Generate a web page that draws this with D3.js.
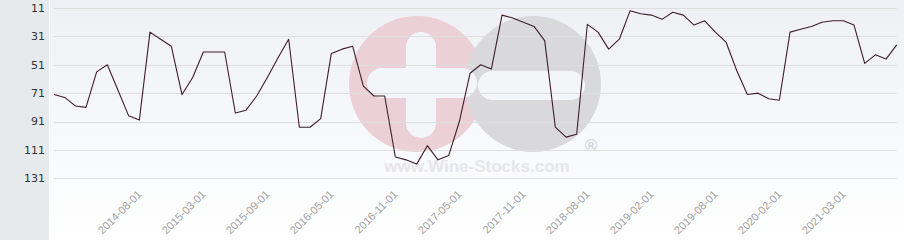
<!DOCTYPE html>
<html>
<head>
<meta charset="utf-8">
<script src="https://cdn.jsdelivr.net/npm/d3@7"></script>
<style>
  html, body { margin: 0; padding: 0; background: #fff; }
  svg { display: block; }
</style>
</head>
<body>
<div id="chart"></div>
<script>
// ranking values, one per month point (lower = better, axis reversed)
const ranks = [72, 74, 80, 81, 56, 51, 69, 87, 90, 28,
               33, 38, 72, 60, 42, 42, 42, 85, 83, 73,
               60, 46, 33, 95, 95, 89, 43, 40, 38, 66,
               73, 73, 116, 118, 121, 108, 118, 115, 91, 57,
               51, 54, 16, 18, 21, 24, 34, 95, 102, 100,
               22.5, 28, 40, 33, 13, 15, 16, 19, 14, 16,
               23, 20, 28, 35, 55, 72, 71, 75, 76, 28,
               26, 24, 21, 20, 20, 23, 50, 44, 47, 37];
const yTicks = [11, 31, 51, 71, 91, 111, 131];
const xLabels = ['2014-08-01', '2015-03-01', '2015-09-01', '2016-05-01', '2016-11-01', '2017-05-01',
                 '2017-11-01', '2018-08-01', '2019-02-01', '2019-08-01', '2020-02-01', '2021-03-01'];
const xLabelIdx = [8, 14, 20, 26, 32, 38, 44, 50, 56, 62, 68, 74];

const width = 904, height = 240;
const plotL = 54, plotR = 896.7, plotT = 8, plotB = 178.3;

const svg = d3.select('#chart').append('svg').attr('width', width).attr('height', height);

const defs = svg.append('defs');
const grad = defs.append('linearGradient').attr('id', 'bg').attr('x1', 0).attr('y1', 0).attr('x2', 0).attr('y2', 1);
grad.append('stop').attr('offset', '0%').attr('stop-color', '#eef0f5');
grad.append('stop').attr('offset', '100%').attr('stop-color', '#ffffff');

// backgrounds
svg.append('rect').attr('x', 50).attr('y', 0).attr('width', width - 50).attr('height', height).attr('fill', 'url(#bg)');
svg.append('rect').attr('x', 0).attr('y', 0).attr('width', 49).attr('height', height).attr('fill', '#e7eaed');

const x = d3.scalePoint().domain(d3.range(ranks.length)).range([plotL, plotR]);
const y = d3.scaleLinear().domain([11, 131]).range([plotT, plotB]);

// watermark (under the grid)
const wm = svg.append('g');
wm.append('circle').attr('cx', 417).attr('cy', 84).attr('r', 68).attr('fill', '#ebd0d7');
wm.append('circle').attr('cx', 533).attr('cy', 84).attr('r', 68).attr('fill', '#d9d9dc');
wm.append('rect').attr('x', 406).attr('y', 32).attr('width', 30).attr('height', 106).attr('rx', 15).attr('fill', '#f4f5f8');
wm.append('rect').attr('x', 367).attr('y', 68).attr('width', 110).attr('height', 30).attr('rx', 15).attr('fill', '#f4f5f8');
wm.append('rect').attr('x', 478).attr('y', 71).attr('width', 107).attr('height', 29).attr('rx', 14.5).attr('fill', '#f4f5f8');
wm.append('text').attr('x', 477).attr('y', 172).attr('text-anchor', 'middle')
    .style('font', 'bold 17px "Liberation Sans", Arial, sans-serif').attr('fill', '#e6e6e8')
    .text('www.Wine-Stocks.com');
wm.append('text').attr('x', 591).attr('y', 151).attr('text-anchor', 'middle')
    .style('font', 'bold 17px "Liberation Sans", Arial, sans-serif').attr('fill', '#d4d4d6')
    .text('®');

// grid
svg.append('g').selectAll('line').data(yTicks).enter().append('line')
    .attr('x1', plotL).attr('x2', plotR)
    .attr('y1', d => Math.round(y(d)) + 0.5).attr('y2', d => Math.round(y(d)) + 0.5)
    .attr('stroke', '#dedede').attr('stroke-width', 1);

// y labels
svg.append('g').selectAll('text').data(yTicks).enter().append('text')
    .attr('x', 45).attr('y', d => y(d)).attr('dy', '0.35em').attr('text-anchor', 'end')
    .style('font', '11px "DejaVu Sans", sans-serif').attr('fill', '#333')
    .text(d => d);

// x labels
svg.append('g').selectAll('text').data(xLabels).enter().append('text')
    .attr('text-anchor', 'end')
    .attr('transform', (d, i) => `translate(${x(xLabelIdx[i]) + 3}, 195) rotate(-45)`)
    .style('font', '11px "Liberation Sans", Arial, sans-serif').attr('fill', '#a0a0a0')
    .text(d => d);

// line
const line = d3.line().x((d, i) => x(i)).y(d => y(d));
svg.append('path').datum(ranks).attr('d', line)
    .attr('fill', 'none').attr('stroke', '#3a1f2b').attr('stroke-width', 1.1)
    .attr('stroke-linejoin', 'round');
</script>
</body>
</html>
